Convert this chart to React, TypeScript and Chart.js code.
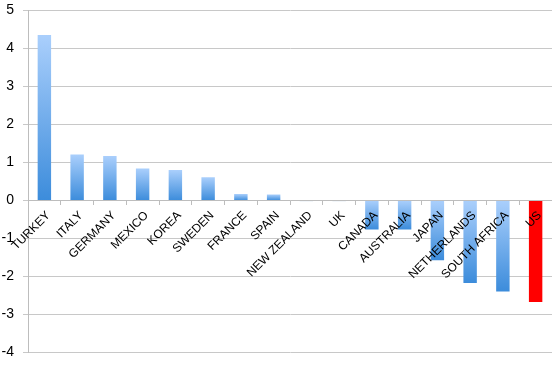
import React, { useEffect, useRef } from "react";
import { Chart, registerables } from "chart.js";

Chart.register(...registerables);

const categories = [
  "TURKEY", "ITALY", "GERMANY", "MEXICO", "KOREA", "SWEDEN", "FRANCE", "SPAIN",
  "NEW ZEALAND", "UK", "CANADA", "AUSTRALIA", "JAPAN", "NETHERLANDS", "SOUTH AFRICA", "US",
];
const values = [4.35, 1.21, 1.17, 0.84, 0.8, 0.61, 0.17, 0.16, -0.02, -0.02, -0.76, -0.76, -1.57, -2.17, -2.39, -2.67];
const highlight = "US";
const yMin = -4;
const yMax = 5;

export default function App() {
  const ref = useRef<HTMLCanvasElement>(null);
  useEffect(() => {
    const canvas = ref.current;
    if (!canvas) return;
    const chart = new Chart(canvas, {
      type: "bar",
      data: {
        labels: categories,
        datasets: [
          {
            data: values,
            backgroundColor: (ctx: any) => {
              const label = categories[ctx.dataIndex];
              if (label === highlight) return "#ff0000";
              const ch = ctx.chart;
              const area = ch.chartArea;
              if (!area) return "#6aa9ee";
              const v = ctx.raw as number;
              const yS = ch.scales.y;
              const top = yS.getPixelForValue(Math.max(v, 0));
              const bot = yS.getPixelForValue(Math.min(v, 0));
              if (!isFinite(top) || !isFinite(bot) || bot - top < 1) return "#c9d9ea";
              const g = ch.ctx.createLinearGradient(0, top, 0, bot);
              g.addColorStop(0, "#aacffc");
              g.addColorStop(1, "#3c8cdb");
              return g;
            },
            borderWidth: 0,
            categoryPercentage: 1,
            barPercentage: 0.41,
          },
        ],
      },
      options: {
        animation: false,
        responsive: false,
        maintainAspectRatio: false,
        layout: { padding: { top: 2, bottom: 7, right: 0, left: 0 } },
        plugins: { legend: { display: false }, tooltip: { enabled: false } },
        scales: {
          x: {
            position: { y: 0 } as any,
            grid: {
              display: true,
              drawOnChartArea: false,
              drawTicks: true,
              tickLength: 4,
              color: "#bdbdbd",
              offset: true,
              z: 1,
            },
            border: { display: true, color: "#bdbdbd", z: 1 },
            ticks: {
              autoSkip: false,
              minRotation: 45,
              maxRotation: 45,
              color: "#000",
              font: { family: "Liberation Sans", size: 12 },
              padding: 4,
              labelOffset: 4,
              z: 2,
            },
          },
          y: {
            min: yMin,
            max: yMax,
            afterFit: (s: any) => {
              s.width = 28;
            },
            grid: { color: "#c8c8c8", tickLength: 5, lineWidth: 1 },
            border: { display: true, color: "#bdbdbd" },
            ticks: {
              stepSize: 1,
              color: "#000",
              font: { family: "Liberation Sans", size: 14 },
              padding: 9,
            },
          },
        },
      },
    });
    return () => chart.destroy();
  }, []);
  return (
    <div style={{ position: "fixed", left: 0, top: 0, width: 552, height: 368, overflow: "hidden", background: "#fff" }}>
      <canvas
        ref={ref}
        width={552}
        height={377}
        style={{ position: "absolute", left: 0, top: -7, width: 552, height: 377 }}
      />
    </div>
  );
}
